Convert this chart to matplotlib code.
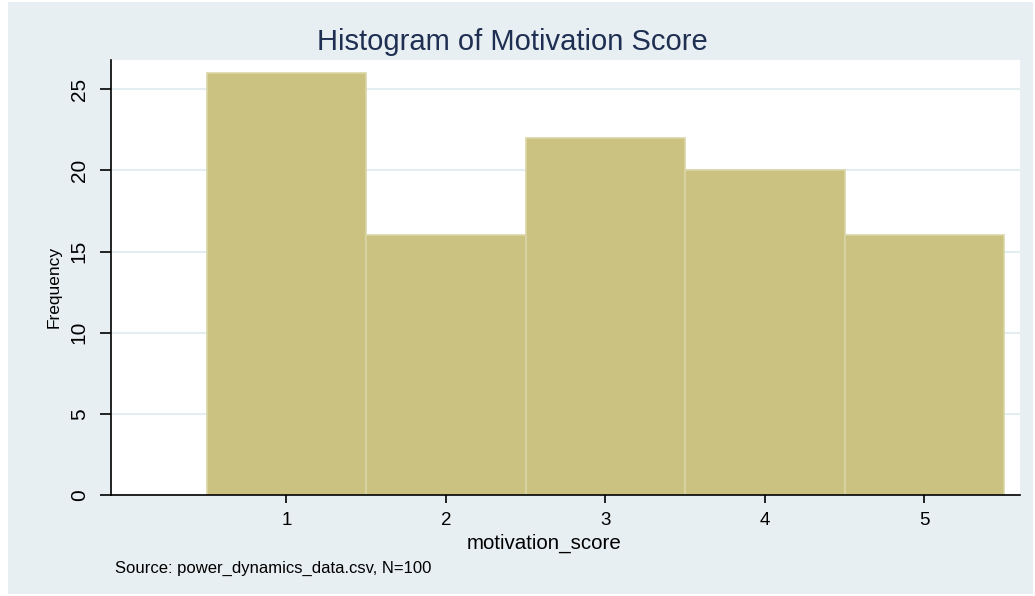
import matplotlib.pyplot as plt
from matplotlib.patches import Rectangle

plt.rcParams['font.family'] = ['Liberation Sans', 'DejaVu Sans']

# данные гистограммы
scores = [1, 2, 3, 4, 5]
frequency = [26, 16, 22, 20, 16]
y_ticks = [0, 5, 10, 15, 20, 25]

W, H = 1035, 596
fig = plt.figure(figsize=(W / 100, H / 100), dpi=100, facecolor='white')

# светло-серый фон в стиле Stata
fig.patches.append(Rectangle((8 / W, 1 - 594 / H), (1033 - 8) / W, (594 - 2) / H,
                             transform=fig.transFigure, facecolor='#e8eff2',
                             edgecolor='none', zorder=-10))

ax = fig.add_axes([111 / W, 1 - 495 / H, (1020 - 111) / W, (495 - 60) / H])
ax.set_facecolor('white')

ax.bar(scores, frequency, width=1.0, color='#cbc282', edgecolor='#dad5a6',
       linewidth=1.2, zorder=2)

ax.set_xlim(-0.1, 5.6)
ax.set_ylim(0, 26.8)
ax.set_yticks(y_ticks)
ax.set_xticks(scores)
ax.set_yticklabels([str(t) for t in y_ticks], rotation=90, va='center')
ax.grid(axis='y', color='#e4eef1', linewidth=1.5, zorder=1)
ax.tick_params(axis='x', length=6, width=1.2, labelsize=13.5, colors='black', pad=6)
ax.tick_params(axis='y', length=8, width=1.2, labelsize=15, colors='black', pad=8)

for side in ['top', 'right']:
    ax.spines[side].set_visible(False)
for side in ['left', 'bottom']:
    ax.spines[side].set_linewidth(1.2)
    ax.spines[side].set_zorder(3)

fig.text(512 / W, 1 - 42 / H, 'Histogram of Motivation Score', ha='center', va='center',
         fontsize=21, color='#1e2f52')
fig.text(544 / W, 1 - 543 / H, 'motivation_score', ha='center', va='center', fontsize=14.8)
fig.text(54 / W, 1 - 287 / H, 'Frequency', ha='center', va='center', rotation=90, fontsize=12.5)
fig.text(115 / W, 1 - 568 / H, 'Source: power_dynamics_data.csv, N=100', ha='left', va='center',
         fontsize=12)

fig.savefig('out.png', dpi=100, facecolor=fig.get_facecolor())
